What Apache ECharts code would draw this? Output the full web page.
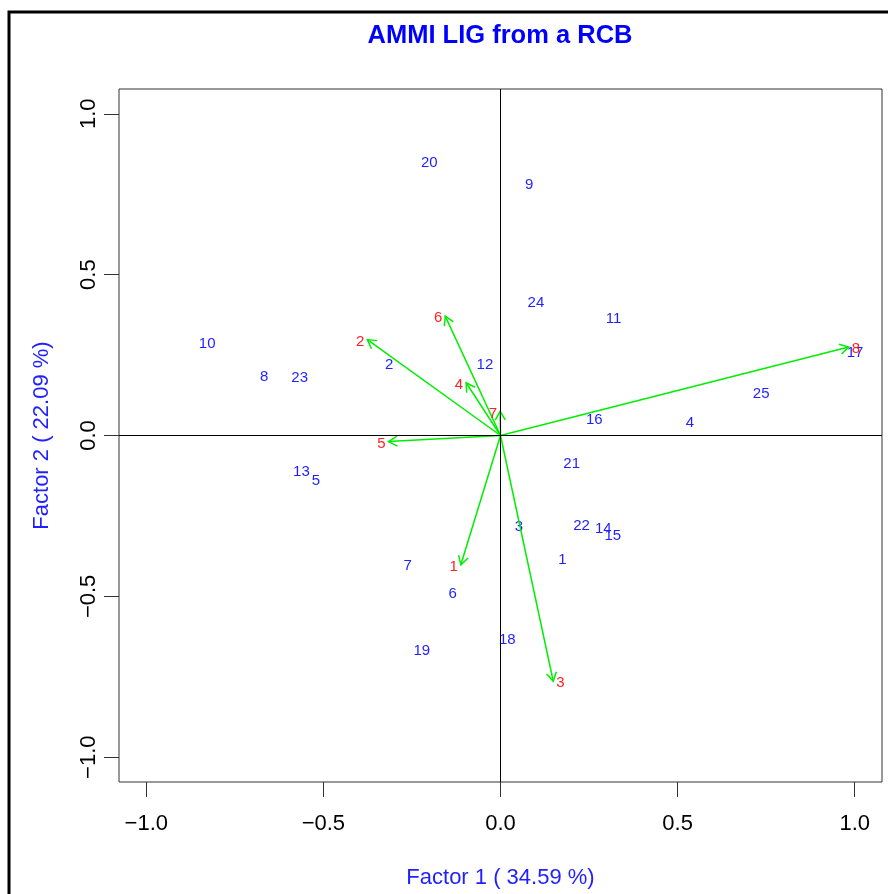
<!DOCTYPE html>
<html>
<head>
<meta charset="utf-8">
<title>AMMI LIG from a RCB</title>
<script src="https://cdn.jsdelivr.net/npm/echarts@6/dist/echarts.min.js"></script>
<style>
  html, body { margin: 0; padding: 0; background: #ffffff; }
  #chart { width: 888px; height: 894px; }
</style>
</head>
<body>
<div id="chart"></div>
<script>
// Genotype scores on the first two interaction factors
const genotypeNames = ['1','2','3','4','5','6','7','8','9','10','11','12','13',
                       '14','15','16','17','18','19','20','21','22','23','24','25'];
const genotypeF1 = [0.175, -0.314, 0.052, 0.535, -0.521, -0.135, -0.262, -0.667, 0.081,
                    -0.828, 0.319, -0.044, -0.562, 0.290, 0.317, 0.265, 1.001, 0.019,
                    -0.222, -0.201, 0.201, 0.229, -0.567, 0.100, 0.736];
const genotypeF2 = [-0.383, 0.223, -0.281, 0.042, -0.137, -0.489, -0.402, 0.184, 0.782,
                    0.288, 0.366, 0.223, -0.109, -0.286, -0.308, 0.052, 0.261, -0.632,
                    -0.665, 0.849, -0.085, -0.277, 0.181, 0.414, 0.133];

// Environment scores (drawn as vectors from the origin)
const envNames = ['1','2','3','4','5','6','7','8'];
const envF1 = [-0.112, -0.376, 0.149, -0.097, -0.316, -0.156, -0.001, 0.983];
const envF2 = [-0.402, 0.298, -0.764, 0.164, -0.019, 0.371, 0.075, 0.275];

// Axis ticks and titles
const tickValues = [-1.0, -0.5, 0.0, 0.5, 1.0];
const axisLimit = 1.077;
const chartTitle = 'AMMI LIG from a RCB';
const xTitle = 'Factor 1 ( 34.59 %)';
const yTitle = 'Factor 2 ( 22.09 %)';

const FONT = '"Liberation Sans", Arial, Helvetica, sans-serif';
const BLUE = '#1f1fff';
const RED = '#ff2020';
const GREEN = '#00ee00';

const genotypeData = genotypeNames.map((n, i) => [genotypeF1[i], genotypeF2[i], n]);
const envData = envNames.map((n, i) => [envF1[i], envF2[i], n]);

const fmtTick = v => (v < 0 ? '\u2212' : '') + Math.abs(v).toFixed(1);

function axisCommon(name) {
  return {
    type: 'value',
    min: -axisLimit,
    max: axisLimit,
    name: name,
    nameLocation: 'middle',
    nameTextStyle: { color: BLUE, fontSize: 22, fontFamily: FONT },
    axisLine: { show: false, onZero: false },
    splitLine: { show: false },
    axisTick: {
      show: true, inside: false, length: 15,
      customValues: tickValues,
      lineStyle: { color: '#333', width: 1 }
    },
    axisLabel: {
      show: true,
      customValues: tickValues,
      formatter: fmtTick,
      color: '#000', fontSize: 22, fontFamily: FONT
    }
  };
}

const xAxis = axisCommon(xTitle);
xAxis.nameGap = 85;
xAxis.axisLabel.margin = 31;

const yAxis = axisCommon(yTitle);
yAxis.nameGap = 66;
yAxis.axisLabel.rotate = 90;
yAxis.axisLabel.margin = 19;

// Environment vector: shaft plus an open arrow head
function renderEnv(params, api) {
  const x = api.value(0), y = api.value(1);
  const o = api.coord([0, 0]);
  const t = api.coord([x, y]);
  const ang = Math.atan2(t[1] - o[1], t[0] - o[0]);
  const L = 10, spread = Math.PI / 6;
  const h1 = [t[0] - L * Math.cos(ang - spread), t[1] - L * Math.sin(ang - spread)];
  const h2 = [t[0] - L * Math.cos(ang + spread), t[1] - L * Math.sin(ang + spread)];
  const lineStyle = { stroke: GREEN, lineWidth: 1.5, fill: null };
  const left = x < 0;
  return {
    type: 'group',
    children: [
      { type: 'line', shape: { x1: o[0], y1: o[1], x2: t[0], y2: t[1] }, style: lineStyle },
      { type: 'polyline', shape: { points: [h1, t, h2] }, style: lineStyle },
      {
        type: 'text',
        x: t[0] + (left ? -3 : 3),
        y: t[1] + 2,
        style: {
          text: api.value(2),
          fill: RED,
          font: '15px ' + FONT,
          align: left ? 'right' : 'left',
          verticalAlign: 'middle'
        }
      }
    ]
  };
}

function renderGenotype(params, api) {
  const p = api.coord([api.value(0), api.value(1)]);
  return {
    type: 'text',
    x: p[0],
    y: p[1] + 1,
    style: {
      text: api.value(2),
      fill: BLUE,
      font: '15px ' + FONT,
      align: 'center',
      verticalAlign: 'middle'
    }
  };
}

const chart = echarts.init(document.getElementById('chart'), null, { renderer: 'canvas' });

chart.setOption({
  backgroundColor: '#ffffff',
  animation: false,
  title: {
    text: chartTitle,
    left: 495,
    top: 18,
    textAlign: 'center',
    textStyle: { color: '#0000ff', fontSize: 25.5, fontWeight: 'bold', fontFamily: FONT }
  },
  grid: {
    left: 119, right: 6, top: 89, bottom: 108,
    show: true, borderColor: '#333', borderWidth: 1, backgroundColor: 'transparent'
  },
  xAxis: xAxis,
  yAxis: yAxis,
  graphic: [
    {
      type: 'rect',
      shape: { x: 9, y: 12, width: 1000, height: 1000 },
      style: { fill: null, stroke: '#000', lineWidth: 3 },
      silent: true
    }
  ],
  series: [
    {
      type: 'custom',
      name: 'zero lines',
      data: [[0, 0]],
      renderItem: function () { return null; },
      markLine: {
        silent: true,
        symbol: 'none',
        label: { show: false },
        lineStyle: { color: '#000', width: 1, type: 'solid' },
        data: [{ xAxis: 0 }, { yAxis: 0 }]
      }
    },
    {
      type: 'custom',
      name: 'genotypes',
      data: genotypeData,
      renderItem: renderGenotype,
      clip: false
    },
    {
      type: 'custom',
      name: 'environments',
      data: envData,
      renderItem: renderEnv,
      clip: false
    }
  ]
});
</script>
</body>
</html>
